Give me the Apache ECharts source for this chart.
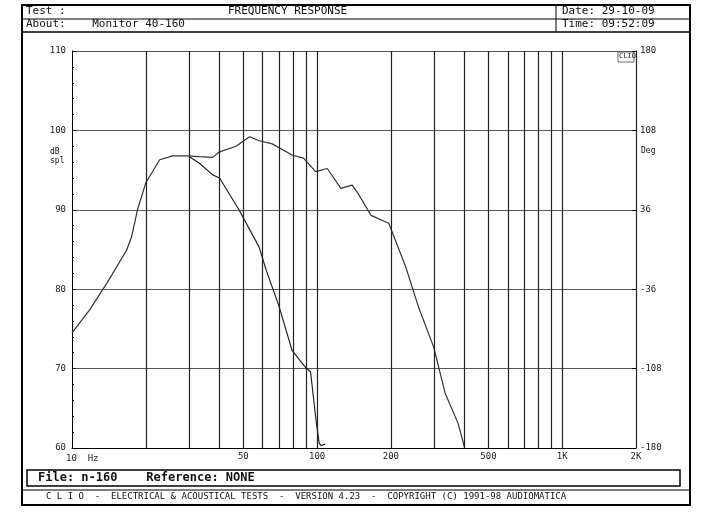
<!DOCTYPE html>
<html>
<head>
<meta charset="UTF-8">
<style>
  * { margin: 0; padding: 0; }
  html, body { width: 100%; height: 100%; background: #fff; }
  #box { width: 705px; height: 522px; }
</style>
</head>
<body>
<div id="box"></div>
<script src="https://cdn.jsdelivr.net/npm/echarts@6/dist/echarts.min.js"></script>
<script>
var box = echarts.init(document.getElementById("box"));

// wide response (upper curve)
var wideFreq = [10, 11.8, 13.9, 16.7, 17.5, 18.5, 20, 22.8, 25.7, 29.3, 33, 37.5, 40, 46.7, 53, 58, 65.6, 79, 88, 98.6, 110, 125, 139, 148, 166, 196, 230, 259, 299, 333, 376, 400];
var wideDb   = [74.5, 77.4, 80.8, 84.9, 86.6, 90, 93.4, 96.3, 96.8, 96.8, 96.7, 96.6, 97.3, 98, 99.2, 98.7, 98.3, 96.9, 96.5, 94.8, 95.2, 92.7, 93.1, 91.9, 89.3, 88.3, 82.8, 77.8, 72.7, 66.9, 63.1, 60];
// narrow response (lower curve)
var narrowFreq = [30, 33, 37.5, 40, 48, 58, 62, 70, 79, 90, 94, 99, 102, 104, 108];
var narrowDb   = [96.7, 95.9, 94.4, 94, 90, 85.3, 82.4, 77.8, 72.3, 70.1, 69.6, 63.5, 60.6, 60.3, 60.5];

var gridFreqs = [20, 30, 40, 50, 60, 70, 80, 90, 100, 200, 300, 400, 500, 600, 700, 800, 900, 1000, 2000];
var xLabels = { 50: '50', 100: '100', 200: '200', 500: '500', 1000: '1K', 2000: '2K' };

function pairs(f, v) {
    var res = [];
    for (var i = 0; i < f.length; i++) res.push([f[i], v[i]]);
    return res;
}

var mono = 'DejaVu Sans Mono';
var vLines = gridFreqs.map(function (f) {
    return { xAxis: f, label: { show: !!xLabels[f], formatter: xLabels[f] || '' } };
});

var option = {
    animation: false,
    grid: { left: 72, right: 69, top: 51, bottom: 74 },
    xAxis: {
        type: 'log', min: 10, max: 2000, logBase: 10,
        axisLine: { onZero: false, lineStyle: { color: '#000' } },
        axisTick: { show: false }, axisLabel: { show: false }, splitLine: { show: false }
    },
    yAxis: [{
        type: 'value', min: 60, max: 110, interval: 10,
        axisLine: { show: true, lineStyle: { color: '#000' } },
        axisTick: { show: true, inside: true, length: 4 },
        minorTick: { show: true, splitNumber: 5, length: 2, lineStyle: { color: '#000' } },
        axisLabel: { color: '#222', fontFamily: mono, fontSize: 9, margin: 6 },
        splitLine: { lineStyle: { color: '#555', width: 1 } }
    }, {
        type: 'value', min: -180, max: 180, interval: 72,
        axisLine: { show: true, lineStyle: { color: '#000' } },
        axisTick: { show: true, inside: true, length: 4 },
        axisLabel: { color: '#222', fontFamily: mono, fontSize: 9, margin: 4 },
        splitLine: { show: false }
    }],
    graphic: [
        { type: 'rect', shape: { x: 22, y: 5, width: 668, height: 500 }, style: { fill: 'none', stroke: '#000', lineWidth: 2 } },
        { type: 'line', shape: { x1: 22, y1: 19, x2: 690, y2: 19 }, style: { stroke: '#000', lineWidth: 1 } },
        { type: 'line', shape: { x1: 22, y1: 32, x2: 690, y2: 32 }, style: { stroke: '#000', lineWidth: 1.5 } },
        { type: 'line', shape: { x1: 556, y1: 5, x2: 556, y2: 32 }, style: { stroke: '#000', lineWidth: 1 } },
        { type: 'text', left: 26, top: 6, style: { text: 'Test :', font: '11px ' + mono, fill: '#111' } },
        { type: 'text', left: 228, top: 6, style: { text: 'FREQUENCY RESPONSE', font: '11px ' + mono, fill: '#111' } },
        { type: 'text', left: 562, top: 6, style: { text: 'Date: 29-10-09', font: '11px ' + mono, fill: '#111' } },
        { type: 'text', left: 26, top: 19, style: { text: 'About:    Monitor 40-160', font: '11px ' + mono, fill: '#111' } },
        { type: 'text', left: 562, top: 19, style: { text: 'Time: 09:52:09', font: '11px ' + mono, fill: '#111' } },
        { type: 'text', left: 50, top: 147, style: { text: 'dB\nspl', font: '8px ' + mono, fill: '#111', lineHeight: 9 } },
        { type: 'text', left: 641, top: 147, style: { text: 'Deg', font: '8px ' + mono, fill: '#111' } },
        { type: 'text', left: 66, top: 454, style: { text: '10  Hz', font: '9px ' + mono, fill: '#222' } },
        { type: 'rect', shape: { x: 618, y: 52, width: 16, height: 10 }, style: { fill: 'none', stroke: '#444', lineWidth: 0.8 } },
        { type: 'text', left: 619, top: 53, style: { text: 'CLIO', font: '7px ' + mono, fill: '#222' } },
        { type: 'rect', shape: { x: 27, y: 470, width: 653, height: 16 }, style: { fill: 'none', stroke: '#000', lineWidth: 1.5 } },
        { type: 'text', left: 38, top: 472, style: { text: 'File: n-160    Reference: NONE', font: 'bold 12px ' + mono, fill: '#111' } },
        { type: 'line', shape: { x1: 22, y1: 490, x2: 690, y2: 490 }, style: { stroke: '#000', lineWidth: 1 } },
        { type: 'text', left: 46, top: 492, style: { text: 'C L I O  -  ELECTRICAL & ACOUSTICAL TESTS  -  VERSION 4.23  -  COPYRIGHT (C) 1991-98 AUDIOMATICA', font: '9px ' + mono, fill: '#111' } }
    ],
    series: [{
        type: 'line', data: pairs(wideFreq, wideDb), showSymbol: false,
        lineStyle: { color: '#333', width: 1.2 },
        markLine: {
            silent: true, symbol: 'none',
            lineStyle: { color: '#222', type: 'solid', width: 1.2 },
            label: { position: 'start', color: '#222', fontFamily: mono, fontSize: 9, distance: 4 },
            data: vLines
        }
    }, {
        type: 'line', data: pairs(narrowFreq, narrowDb), showSymbol: false,
        lineStyle: { color: '#222', width: 1.2 }
    }]
};
box.setOption(option);
</script>
</body>
</html>
